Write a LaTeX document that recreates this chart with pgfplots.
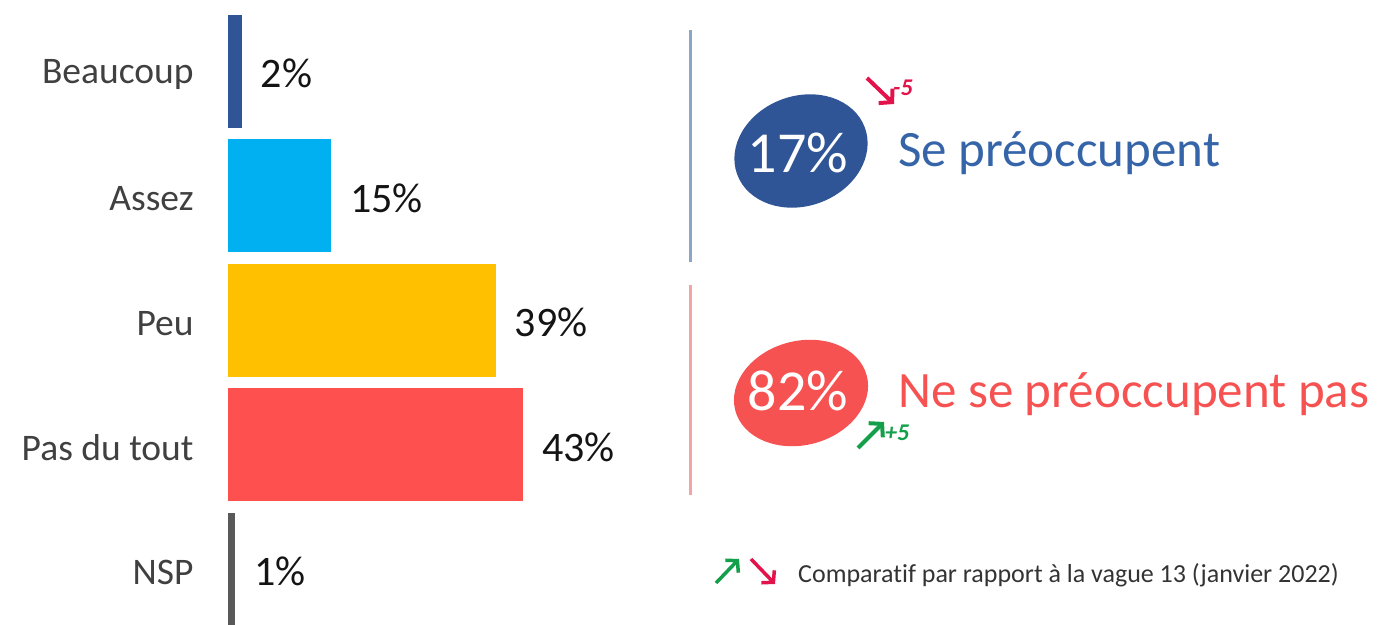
\documentclass[border=0pt]{standalone}
\usepackage{pgfplots}
\pgfplotsset{compat=1.18}
\usepackage{fontspec}
\setmainfont{Carlito}[Ligatures=NoCommon]
\usetikzlibrary{arrows.meta}
\definecolor{cBeau}{HTML}{2F5597}
\definecolor{cAssez}{HTML}{00B0F0}
\definecolor{cPeu}{HTML}{FFC000}
\definecolor{cPas}{HTML}{FF5050}
\definecolor{cNsp}{HTML}{595959}
\definecolor{labgray}{HTML}{404040}
\definecolor{valblack}{HTML}{141414}
\definecolor{seBlue}{HTML}{3565A8}
\definecolor{neRed}{HTML}{F75252}
\definecolor{lineBlue}{HTML}{8EA6C6}
\definecolor{lineRed}{HTML}{F2A5A5}
\definecolor{arrRed}{HTML}{E2134B}
\definecolor{arrGreen}{HTML}{14A04A}
\definecolor{legText}{HTML}{333333}
\begin{document}
\begin{tikzpicture}[x=1pt,y=1pt]
\path[use as bounding box] (0,0) rectangle (1379,624);
\begin{axis}[
  at={(228pt,0pt)}, anchor=south west,
  scale only axis, width=686pt, height=624pt,
  xmin=0, xmax=100, ymin=-0.438, ymax=4.574,
  xbar, bar width=113pt,
  axis line style={draw=none}, tick style={draw=none}, xtick=\empty,
  ytick={0,1,2,3,4},
  yticklabels={NSP,Pas du tout,Peu,Assez,Beaucoup},
  yticklabel style={font=\fontsize{37.5}{40}\selectfont, text=labgray, anchor=east, inner sep=0pt, xshift=-30pt, yshift=-3pt},
  point meta=x,
  /pgf/number format/assume math mode=true,
  nodes near coords={\pgfmathprintnumber{\pgfplotspointmeta}\%},
  nodes near coords style={font=\fontsize{42}{46}\selectfont, text=valblack, anchor=west, inner sep=0pt, xshift=19pt, yshift=-2pt},
]
\addplot[fill=cBeau, draw=none, bar shift=0pt] coordinates {(2,4)};
\addplot[fill=cAssez, draw=none, bar shift=0pt] coordinates {(15,3)};
\addplot[fill=cPeu, draw=none, bar shift=0pt] coordinates {(39,2)};
\addplot[fill=cPas, draw=none, bar shift=0pt] coordinates {(43,1)};
\addplot[fill=cNsp, draw=none, bar shift=0pt] coordinates {(1,0)};
\end{axis}
% separators
\draw[line width=3pt, lineBlue] (690,594) -- (690,362);
\draw[line width=3pt, lineRed] (690,339) -- (690,129);
% ellipses
\fill[cBeau, rotate around={20:(801,473)}] (801,473) ellipse [x radius=68, y radius=55];
\node[text=white, font=\fontsize{58}{60}\selectfont, inner sep=0pt] at (798,471) {17\%};
\node[anchor=base west, inner sep=0pt, text=seBlue, font=\fontsize{51}{55}\selectfont] at (898,457) {Se préoccupent};
\fill[neRed, rotate around={15:(801,231)}] (801,231) ellipse [x radius=68, y radius=52];
\node[text=white, font=\fontsize{58}{60}\selectfont, inner sep=0pt] at (798,233) {82\%};
\node[anchor=base west, inner sep=0pt, text=neRed, font=\fontsize{51}{55}\selectfont] at (898,216) {Ne se préoccupent pas};
% change arrows
\draw[-{Straight Barb[length=9pt,width=20pt]}, line width=4pt, arrRed] (867,546) -- (894,520);
\node[anchor=west, inner sep=0pt, text=arrRed, font=\bfseries\itshape\fontsize{24}{26}\selectfont] at (893,536) {-5};
\draw[-{Straight Barb[length=9pt,width=20pt]}, line width=4pt, arrGreen] (858,176) -- (884,202);
\node[anchor=west, inner sep=0pt, text=arrGreen, font=\bfseries\itshape\fontsize{24}{26}\selectfont] at (885,191) {+5};
% legend
\draw[-{Straight Barb[length=8pt,width=18pt]}, line width=3.5pt, arrGreen] (716,41) -- (739,65);
\draw[-{Straight Barb[length=8pt,width=18pt]}, line width=3.5pt, arrRed] (751,65) -- (775,40);
\node[anchor=west, inner sep=0pt, text=legText, font=\fontsize{26}{28}\selectfont] at (798,49) {Comparatif par rapport à la vague 13 (janvier 2022)};
\end{tikzpicture}
\end{document}
